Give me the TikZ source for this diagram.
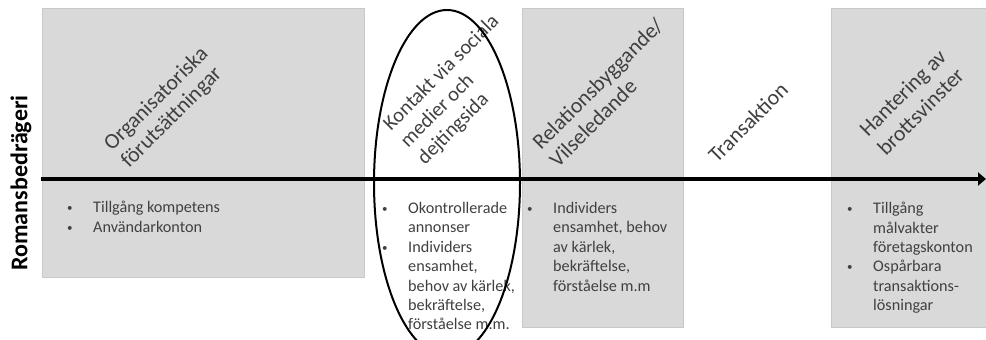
\documentclass[tikz,border=0pt]{standalone}
\usepackage{fontspec}
\setmainfont{Carlito}
\usetikzlibrary{arrows.meta}
\definecolor{boxgray}{HTML}{D9D9D9}
\definecolor{boxedge}{HTML}{C9C9C9}
\definecolor{textgray}{HTML}{404040}
% small bullet followed by the hanging indent, and the indent alone
\newcommand\bulletmark{\makebox[26pt][l]{\raisebox{1pt}{\fontsize{11}{11}\selectfont\textbullet}}}
\newcommand\bulletgap{\hspace*{26pt}}

\begin{document}
\begin{tikzpicture}[x=1pt,y=-1pt,
  stage/.style={draw=boxedge, line width=0.8pt, fill=boxgray, anchor=north west, inner sep=0pt},
  phase/.style={rotate=45, anchor=base west, text=textgray, font=\fontsize{21.8}{24}\selectfont, inner sep=0pt},
  smallphase/.style={phase, font=\fontsize{20.5}{24}\selectfont},
  items/.style={anchor=north west, align=left, text=textgray, font=\fontsize{16.2}{19.4}\selectfont, inner sep=0pt},
]
\useasboundingbox (0,0) rectangle (986,340);
\clip (0,0) rectangle (986,340);

% shaded stages
\node[stage, minimum width=322pt, minimum height=269pt] (org) at (42,8) {};
\node[stage, minimum width=161pt, minimum height=319pt] (rel) at (522,8) {};
\node[stage, minimum width=170pt, minimum height=319pt] (han) at (831,8) {};

% time line
\coordinate (axisstart) at (41,179);
\coordinate (axisend) at (986,179);
\draw[line width=4.5pt, -{Triangle[length=8pt,width=13pt]}] (axisstart) -- (axisend);

% side title
\node[rotate=90, font=\bfseries\fontsize{24}{26}\selectfont, inner sep=0pt] (title) at (21,183) {Romansbedrägeri};

% phase headings, one node per line, left aligned along the slant
\node[phase] (p1a) at (112,152) {Organisatoriska};
\node[phase] (p1b) at (129,169) {förutsättningar};
\node[smallphase] (p2a) at (391,131.5) {Kontakt via sociala};
\node[smallphase] (p2b) at (408,148.5) {medier och};
\node[smallphase] (p2c) at (425,165.5) {dejtingsida};
\node[phase] (p3a) at (541,151) {Relationsbyggande/};
\node[phase] (p3b) at (558,168.5) {Vilseledande};
\node[phase] (p4)  at (717,164) {Transaktion};
\node[phase] (p5a) at (868,138) {Hantering av};
\node[phase] (p5b) at (886,156.5) {brottsvinster};

% bullet lists
\node[items] (l1) at (67,201) {\bulletmark Tillgång kompetens\\\bulletmark Användarkonton};
\node[items] (l2) at (382,202) {\bulletmark Okontrollerade\\\bulletgap annonser\\\bulletmark Individers\\\bulletgap ensamhet,\\\bulletgap behov av kärlek,\\\bulletgap bekräftelse,\\\bulletgap förståelse m.m.};
\node[items] (l3) at (527,202) {\bulletmark Individers\\\bulletgap ensamhet, behov\\\bulletgap av kärlek,\\\bulletgap bekräftelse,\\\bulletgap förståelse m.m};
\node[items] (l4) at (847,202) {\bulletmark Tillgång\\\bulletgap målvakter\\\bulletgap företagskonton\\\bulletmark Ospårbara\\\bulletgap transaktions-\\\bulletgap lösningar};

% highlight ring round the contact stage
\draw[line width=2pt] (447,183) ellipse [x radius=73pt, y radius=173pt];
\end{tikzpicture}
\end{document}
